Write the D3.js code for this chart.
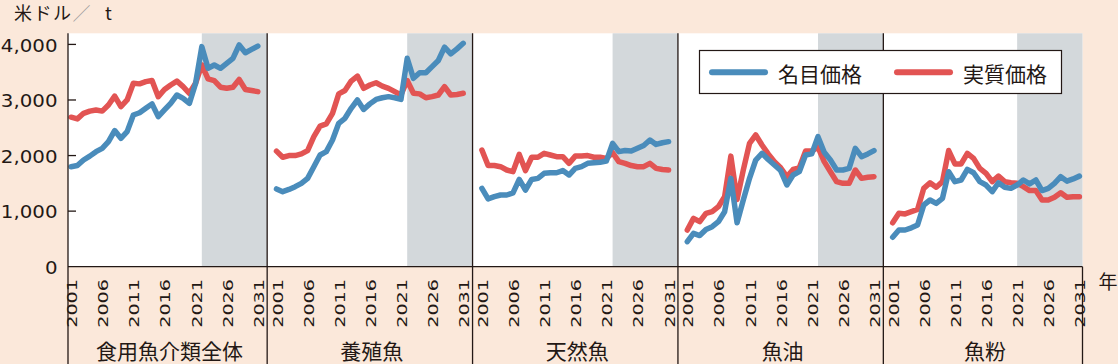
<!DOCTYPE html>
<html><head><meta charset="utf-8">
<script src="https://cdn.jsdelivr.net/npm/d3@7"></script>
<style>html,body{margin:0;padding:0;background:#fbe8da;}svg{display:block}</style>
</head><body><svg id="c" width="1118" height="364"></svg>
<script>
// ---- data ----
const panels = ["食用魚介類全体", "養殖魚", "天然魚", "魚油", "魚粉"];
const years = [2001,2002,2003,2004,2005,2006,2007,2008,2009,2010,2011,2012,2013,2014,2015,2016,
               2017,2018,2019,2020,2021,2022,2023,2024,2025,2026,2027,2028,2029,2030,2031];
const tickYears = [2001, 2006, 2011, 2016, 2021, 2026, 2031];
const yTicks = [0, 1000, 2000, 3000, 4000];
const seriesNames = ["名目価格", "実質価格"];

const nominalTotal = [1800,1820,1920,1990,2070,2130,2250,2450,2310,2430,2730,2770,2850,2930,2700,2820,2940,3090,3030,2940,3300,3960,3570,3630,3570,3660,3750,3990,3850,3910,3970];
const realTotal    = [2690,2660,2760,2800,2820,2800,2910,3070,2880,3000,3300,3290,3330,3350,3060,3190,3270,3340,3240,3120,3300,3630,3380,3350,3230,3210,3230,3370,3190,3170,3150];
const nominalAqua  = [1400,1350,1390,1440,1500,1590,1800,2010,2070,2280,2580,2670,2850,3000,2830,2930,3010,3040,3060,3040,3010,3750,3390,3490,3490,3600,3710,3950,3830,3920,4020];
const realAqua     = [2080,1970,2000,2000,2030,2090,2340,2530,2570,2760,3110,3170,3340,3430,3210,3270,3310,3250,3210,3150,3090,3350,3120,3110,3040,3060,3090,3240,3090,3100,3120];
const nominalWild  = [1410,1220,1260,1290,1290,1330,1570,1380,1570,1590,1680,1690,1690,1730,1650,1770,1800,1860,1870,1880,1900,2220,2070,2090,2080,2130,2180,2280,2200,2230,2250];
const realWild     = [2100,1820,1820,1800,1740,1710,2020,1730,1970,1970,2040,2010,1980,1980,1860,1990,1990,2000,1970,1970,1950,2050,1890,1860,1820,1800,1800,1860,1770,1750,1740];
const nominalOil   = [450,600,560,670,720,810,990,1590,790,1200,1590,1920,2040,1930,1830,1730,1470,1650,1710,2010,2030,2340,2060,1920,1740,1740,1770,2130,1980,2030,2090];
const realOil      = [660,870,810,960,990,1080,1260,1990,1210,1740,2220,2370,2190,2030,1890,1780,1620,1750,1780,2080,2080,2150,1890,1710,1530,1500,1500,1740,1590,1610,1620];
const nominalMeal  = [530,660,660,700,750,1110,1200,1140,1230,1710,1530,1560,1750,1690,1530,1470,1350,1510,1430,1410,1470,1560,1490,1560,1370,1410,1500,1620,1540,1580,1630];
const realMeal     = [790,960,950,990,1030,1410,1510,1430,1530,2090,1850,1850,2040,1950,1770,1680,1530,1630,1530,1510,1500,1440,1370,1370,1200,1200,1250,1330,1250,1260,1260];

const nominalSeries = [nominalTotal, nominalAqua, nominalWild, nominalOil, nominalMeal];
const realSeries    = [realTotal, realAqua, realWild, realOil, realMeal];

// ---- layout ----
const C = { peach:"#fbe8da", gray:"#d3d8db", blue:"#4a8cbb", red:"#e25453", ink:"#231815" };
const GAP = 2;                               // empty slots between panels
const SLOT = years.length + GAP;             // 33
const nSlots = panels.length * SLOT - GAP;   // 163
const plotL = 68, plotR = 1082.5, plotT = 33.3, plotB = 266.7;
const SHADE_SLOTS = 10.5;                    // projection band width (in year slots)

const svg = d3.select("#c");
const x = d3.scaleLinear().domain([-0.5, nSlots - 0.5]).range([plotL, plotR]);
const y = d3.scaleLinear().domain([0, 4200]).range([plotB, plotT]);
const idx = (p, yr) => p * SLOT + (yr - years[0]);
const rightEdge = p => p === panels.length-1 ? plotR : x((p+1)*SLOT - GAP/2 - 0.5);
const leftEdge  = p => p === 0 ? plotL : x(p*SLOT - GAP/2 - 0.5);

svg.append("rect").attr("width",1118).attr("height",364).attr("fill",C.peach);
svg.append("rect").attr("x",plotL).attr("y",plotT).attr("width",plotR-plotL).attr("height",plotB-plotT).attr("fill","#fff");

// projection shading
const slotW = x(1) - x(0);
panels.forEach((name,p)=>{
  const x1 = rightEdge(p), x0 = x1 - SHADE_SLOTS*slotW;
  svg.append("rect").attr("x",x0).attr("y",plotT).attr("width",x1-x0).attr("height",plotB-plotT).attr("fill",C.gray);
});

// lines
const line = d3.line().x(d=>x(d.i)).y(d=>y(d.v));
[[realSeries, C.red],[nominalSeries, C.blue]].forEach(([set,col])=>{
  set.forEach((vals,p)=>{
    const pts = vals.map((v,k)=>({i: idx(p, years[k]), v}));
    svg.append("path").attr("d",line(pts)).attr("fill","none").attr("stroke",col)
      .attr("stroke-width",5.5).attr("stroke-linejoin","round").attr("stroke-linecap","round");
  });
});

// axes
const ax = svg.append("g").attr("stroke",C.ink).attr("stroke-width",1.3).attr("fill","none");
ax.append("line").attr("x1",plotL).attr("x2",plotR).attr("y1",plotB).attr("y2",plotB);
ax.append("line").attr("x1",plotL).attr("x2",plotL).attr("y1",plotT).attr("y2",364);
for (let p=1; p<panels.length; p++){
  const bx = leftEdge(p);
  ax.append("line").attr("x1",bx).attr("x2",bx).attr("y1",plotT).attr("y2",364);
}
ax.append("line").attr("x1",plotR).attr("x2",plotR).attr("y1",plotB).attr("y2",364);

// y ticks + labels
yTicks.forEach(t=>{
  if (t>0) ax.append("line").attr("x1",plotL).attr("x2",plotL+8).attr("y1",y(t)).attr("y2",y(t));
  svg.append("text").attr("transform",`translate(57.5,${y(t)+0.5}) scale(1.1,1)`)
    .attr("text-anchor","end").attr("dominant-baseline","central")
    .attr("font-family","DejaVu Sans").attr("font-size",18).attr("fill",C.ink)
    .text(d3.format(",")(t));
});

// x tick labels + panel names
panels.forEach((name,p)=>{
  tickYears.forEach(yr=>{
    const cx = x(idx(p,yr)) + 1;
    svg.append("text").attr("transform",`translate(${cx},279) rotate(-90) scale(1.37,1)`)
      .attr("text-anchor","end").attr("dominant-baseline","central")
      .attr("font-family","DejaVu Sans").attr("font-size",14).attr("fill",C.ink)
      .text(yr);
  });
  svg.append("text").attr("x",(leftEdge(p)+rightEdge(p))/2+2).attr("y",350).attr("text-anchor","middle")
    .attr("dominant-baseline","central").attr("font-family","Noto Sans CJK JP")
    .attr("font-size",21).attr("fill",C.ink).text(name);
});

// unit & year label
const title = svg.append("text").attr("x",14).attr("y",12).attr("dominant-baseline","central")
  .attr("font-family","Noto Sans CJK JP").attr("font-size",18).attr("fill",C.ink).attr("letter-spacing",1.5);
title.append("tspan").text("米ドル");
title.append("tspan").attr("fill","#9a9a9a").attr("font-weight",300).text("／");
title.append("tspan").attr("x",105).text("t");
svg.append("text").attr("x",1108).attr("y",280).attr("text-anchor","middle").attr("dominant-baseline","central")
  .attr("font-family","Noto Sans CJK JP").attr("font-size",19).attr("fill",C.ink).text("年");

// legend
const lg = svg.append("g");
lg.append("rect").attr("x",699.5).attr("y",50.5).attr("width",362).attr("height",43)
  .attr("fill","#fff").attr("stroke",C.ink).attr("stroke-width",1.2);
const legendItems = [[seriesNames[0], C.blue, 712], [seriesNames[1], C.red, 897]];
legendItems.forEach(([lab,col,lx])=>{
  lg.append("line").attr("x1",lx).attr("x2",lx+53).attr("y1",72.3).attr("y2",72.3)
    .attr("stroke",col).attr("stroke-width",6).attr("stroke-linecap","round");
  lg.append("text").attr("x",lx+66).attr("y",72.5).attr("dominant-baseline","central")
    .attr("font-family","Noto Sans CJK JP").attr("font-size",21).attr("fill",C.ink).text(lab);
});
</script></body></html>
